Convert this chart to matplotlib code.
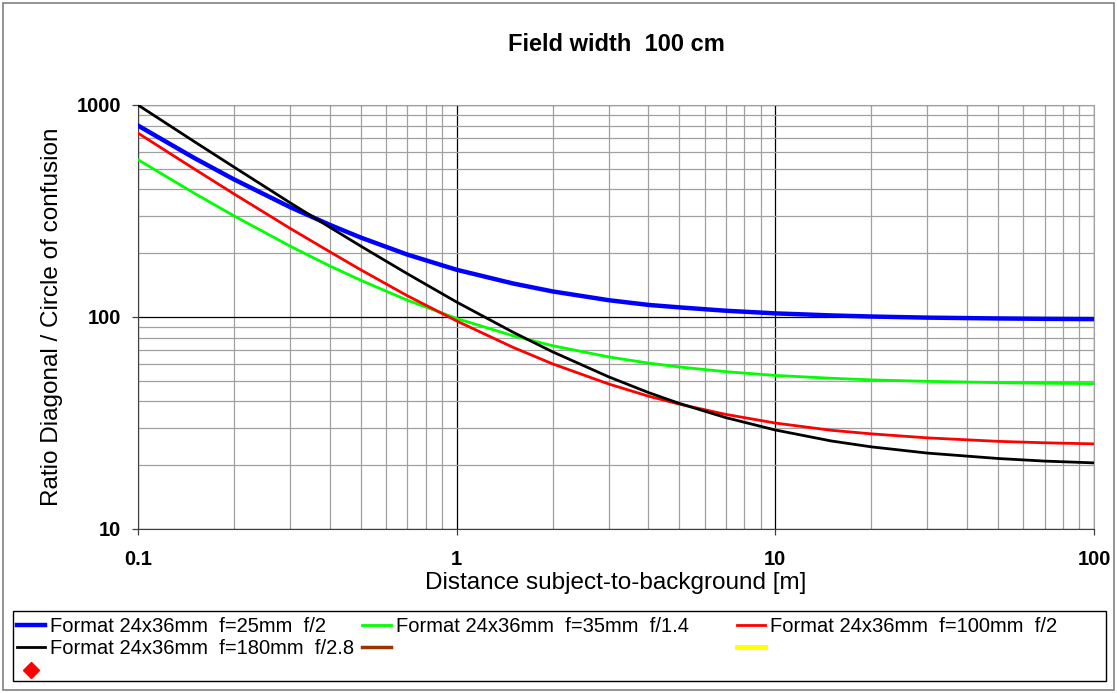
import numpy as np
import matplotlib
matplotlib.use('Agg')
import matplotlib.pyplot as plt
from matplotlib.lines import Line2D
from matplotlib.patches import Rectangle
from matplotlib.ticker import FixedLocator, NullFormatter

plt.rcParams['font.family'] = ['Liberation Sans', 'DejaVu Sans']

# Distancia sujeto-fondo [m].
dist = [0.1, 0.15, 0.2, 0.3, 0.4, 0.5, 0.7, 1, 1.5, 2, 3, 4, 5, 7,
        10, 15, 20, 30, 50, 70, 100]

# Relación diagonal / círculo de confusión para cada objetivo.
r_25mm = [800, 563, 446, 330, 272, 237, 197, 167, 144, 132, 120, 114, 111,
          107, 104, 101.7, 100.5, 99.3, 98.4, 98, 97.7]
r_35mm = [552, 384, 300, 216, 174, 149, 120, 98.4, 81.6, 73.2, 64.8, 60.6,
          58.1, 55.2, 53, 51.4, 50.5, 49.7, 49, 48.7, 48.5]
r_100mm = [737, 500, 381, 262, 203, 167, 126, 95.8, 72, 60.1, 48.3, 42.3,
           38.8, 34.7, 31.6, 29.2, 28.1, 26.9, 25.9, 25.5, 25.2]
r_180mm = [1000, 673, 510, 346, 265, 216, 160, 117.6, 84.9, 68.5, 52.2, 44,
           39.1, 33.5, 29.3, 26, 24.4, 22.8, 21.5, 20.9, 20.5]

etiquetas = ['Format 24x36mm  f=25mm  f/2',
             'Format 24x36mm  f=35mm  f/1.4',
             'Format 24x36mm  f=100mm  f/2',
             'Format 24x36mm  f=180mm  f/2.8']

fig = plt.figure(figsize=(11.17, 6.93), dpi=100)
ax = fig.add_axes([0.1235, 0.2367, 0.8559, 0.6118])

# Curvas.
l1, = ax.plot(dist, r_25mm, color='#0000FF', lw=3.2, label=etiquetas[0], zorder=5)
l2, = ax.plot(dist, r_35mm, color='#00FF00', lw=2, label=etiquetas[1], zorder=5)
l3, = ax.plot(dist, r_100mm, color='#FF0000', lw=2, label=etiquetas[2], zorder=5)
l4, = ax.plot(dist, r_180mm, color='black', lw=2, label=etiquetas[3], zorder=5)

ax.set_xscale('log')
ax.set_yscale('log')
ax.set_xlim(0.1, 100)
ax.set_ylim(10, 1000)

# Rejilla.
ax.xaxis.set_major_locator(FixedLocator([0.1, 1, 10, 100]))
ax.yaxis.set_major_locator(FixedLocator([10, 100, 1000]))
ax.set_xticklabels(['0.1', '1', '10', '100'])
ax.set_yticklabels(['10', '100', '1000'])
ax.xaxis.set_minor_formatter(NullFormatter())
ax.yaxis.set_minor_formatter(NullFormatter())
ax.grid(True, which='minor', color='#a0a0a0', lw=0.9)
ax.grid(True, which='major', color='black', lw=0.9)
ax.tick_params(which='minor', length=0)
ax.tick_params(which='major', length=4, width=0.9, color='#404040')
ax.tick_params(axis='x', pad=11)
ax.tick_params(axis='y', pad=8)
for lab in ax.get_xticklabels() + ax.get_yticklabels():
    lab.set_fontweight('bold')
    lab.set_fontsize(14.5)

ax.spines['top'].set_color('#a0a0a0')
ax.spines['right'].set_color('#a0a0a0')
ax.spines['left'].set_color('#404040')
ax.spines['bottom'].set_color('#404040')

ax.set_title('Field width  100 cm', fontsize=17, fontweight='bold', pad=39)
ax.set_xlabel('Distance subject-to-background [m]', fontsize=17.5, labelpad=2)
ax.set_ylabel('Ratio Diagonal / Circle of confusion', fontsize=17.5, labelpad=10)

# Leyenda (dos bloques dentro de un mismo marco).
h_marron = Line2D([], [], color='#993300', lw=2.5)
h_amarillo = Line2D([], [], color='#FFFF00', lw=3.5)
h_rombo = Line2D([], [], color='red', marker='D', ls='none', markersize=8)
h_vacio = Line2D([], [], color='none')

opciones = dict(loc='upper left', fontsize=14.5, frameon=False,
                handlelength=1.4, handletextpad=0.25, columnspacing=0.4,
                labelspacing=0.17, borderpad=0.2, borderaxespad=0)

leg_a = fig.legend([l1, l4, h_rombo, l2, h_marron, h_vacio],
                   [etiquetas[0], etiquetas[3], '', etiquetas[1], '', ''],
                   ncol=2, bbox_to_anchor=(13 / 1117, 1 - 613 / 693), **opciones)
leg_b = fig.legend([l3, h_amarillo, h_vacio], [etiquetas[2], '', ''],
                   ncol=1, bbox_to_anchor=(733 / 1117, 1 - 613 / 693), **opciones)

fig.patches.append(Rectangle((13 / 1117, 1 - 681 / 693), 1093 / 1117, 70 / 693,
                             transform=fig.transFigure, fill=False,
                             edgecolor='black', lw=1.0))

# Marco exterior.
fig.patches.append(Rectangle((0.003, 0.004), 0.994, 0.992, transform=fig.transFigure,
                             fill=False, edgecolor='#808080', lw=1.2))

fig.savefig('out.png', dpi=100)
